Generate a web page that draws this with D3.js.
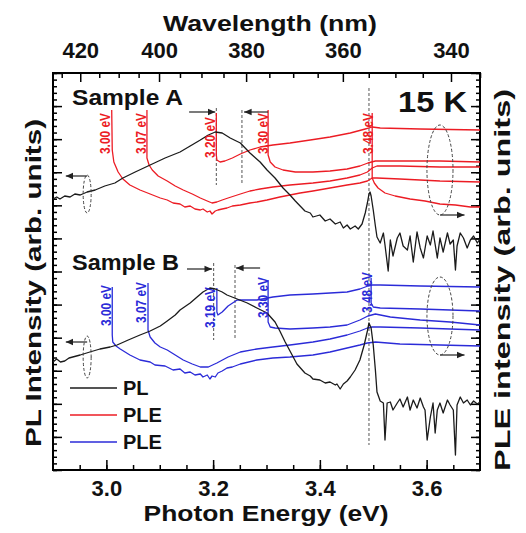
<!DOCTYPE html>
<html>
<head>
<meta charset="utf-8">
<script src="https://cdn.jsdelivr.net/npm/d3@7"></script>
<style>
  body { margin: 0; background: #fff; }
  text { font-family: "Liberation Sans", Arial, sans-serif; font-weight: bold; fill: #111; }
</style>
</head>
<body>
<div id="chart"></div>
<script>
// ---------------------------------------------------------------
// data: [photon energy (eV), intensity (arb. units)]
// ---------------------------------------------------------------
const plA = [[2.900,271],[2.907,273],[2.913,271],[2.922,274],[2.932,273],[2.941,276],[2.951,275],[2.964,278],[2.979,280],[2.997,284],
  [3.016,287],[3.031,292],[3.054,298],[3.082,305],[3.110,312],[3.138,318],[3.157,324],[3.176,330],[3.191,335],[3.204,338],
  [3.217,337],[3.232,332],[3.251,327],[3.269,317],[3.288,308],[3.301,300],[3.316,292],[3.331,282],[3.344,275],[3.354,269],
  [3.363,264],[3.372,259],[3.382,257],[3.387,253],[3.400,255],[3.410,249],[3.419,251],[3.429,246],[3.438,248],[3.444,242],
  [3.451,245],[3.457,241],[3.466,244],[3.472,241],[3.479,246],[3.485,257],[3.489,267],[3.492,276],[3.494,278],[3.496,274],
  [3.500,260],[3.504,244],[3.507,233],[3.513,227],[3.519,237],[3.522,225],[3.528,199],[3.532,230],[3.537,214],[3.545,232],
  [3.550,237],[3.556,224],[3.564,220],[3.569,234],[3.575,208],[3.582,238],[3.588,222],[3.594,212],[3.601,234],[3.607,225],
  [3.612,239],[3.620,212],[3.625,232],[3.631,218],[3.639,237],[3.644,226],[3.650,230],[3.654,200],[3.657,224],[3.663,237],
  [3.669,232],[3.676,222],[3.682,230],[3.688,234],[3.695,227],[3.700,231]];

const plB = [[2.900,108],[2.907,111],[2.914,108],[2.922,109],[2.930,112],[2.937,113],[2.951,115],[2.969,118],[2.988,121],[3.007,123],
  [3.020,125],[3.041,130],[3.063,135],[3.082,139],[3.101,144],[3.114,149],[3.129,155],[3.138,160],[3.157,167],[3.170,173],
  [3.181,178],[3.194,182],[3.204,181],[3.217,178],[3.226,175],[3.245,171],[3.264,167],[3.282,162],[3.301,157],[3.316,148],
  [3.325,139],[3.335,128],[3.344,119],[3.357,106],[3.372,97],[3.382,94],[3.387,91],[3.400,90],[3.410,87],[3.419,88],
  [3.429,85],[3.432,86],[3.438,81],[3.444,86],[3.451,89],[3.457,93],[3.466,100],[3.475,110],[3.483,125],[3.489,139],
  [3.492,147],[3.496,142],[3.500,125],[3.504,100],[3.507,78],[3.513,69],[3.519,67],[3.522,30],[3.526,67],[3.532,68],
  [3.537,60],[3.545,67],[3.550,71],[3.556,63],[3.564,73],[3.569,60],[3.575,70],[3.582,62],[3.588,72],[3.594,63],
  [3.597,60],[3.601,30],[3.607,53],[3.612,67],[3.616,37],[3.620,60],[3.625,67],[3.631,57],[3.639,70],[3.644,65],
  [3.650,60],[3.654,15],[3.657,65],[3.663,73],[3.669,67],[3.676,70],[3.682,65],[3.688,69],[3.695,66],[3.700,68]];

// PLE, sample A (detection energies 3.00, 3.07, 3.20, 3.30, 3.48 eV)
const pleA300 = [[3.010,360],[3.011,320],[3.014,308],[3.022,298],[3.031,291],[3.044,285],[3.063,280],[3.082,276],[3.101,272],[3.114,270],
  [3.125,267],[3.138,266],[3.147,263],[3.157,264],[3.166,261],[3.176,260],[3.181,261],[3.189,258],[3.194,259],[3.198,256],
  [3.204,259],[3.209,260],[3.217,261],[3.226,262],[3.236,264],[3.251,265],[3.269,267],[3.282,268],[3.301,270],[3.325,273],
  [3.344,275],[3.363,277],[3.387,279],[3.419,282],[3.451,285],[3.475,287],[3.489,289],[3.498,292],[3.507,292],[3.550,291],
  [3.625,289],[3.700,288]];
const pleA307 = [[3.076,360],[3.076,312],[3.080,305],[3.086,300],[3.097,294],[3.114,289],[3.129,284],[3.144,280],[3.161,276],[3.176,272],
  [3.189,269],[3.198,267],[3.207,268],[3.217,270],[3.228,272],[3.251,276],[3.269,279],[3.288,281],[3.312,283],[3.344,285],
  [3.387,287],[3.419,289],[3.451,292],[3.475,295],[3.489,298],[3.498,302],[3.507,304],[3.550,304],[3.625,303],[3.700,303]];
const pleA320 = [[3.206,357],[3.206,315],[3.207,310],[3.213,308],[3.222,309],[3.236,312],[3.251,316],[3.269,320],[3.288,323],[3.312,325],
  [3.344,327],[3.382,330],[3.419,333],[3.457,337],[3.485,341],[3.498,343],[3.513,342],[3.588,341],[3.700,340]];
const pleA330 = [[3.303,360],[3.303,315],[3.307,308],[3.316,303],[3.331,300],[3.354,298],[3.387,298],[3.419,299],[3.451,301],[3.475,304],
  [3.490,307],[3.504,309],[3.550,309],[3.625,309],[3.700,308]];
const pleA348 = [[3.498,357],[3.498,292],[3.502,287],[3.509,282],[3.522,277],[3.541,274],[3.569,271],[3.597,269],[3.625,266],[3.654,265],
  [3.682,263],[3.700,263]];

// PLE, sample B (detection energies 3.00, 3.07, 3.19, 3.30, 3.48 eV)
const pleB300 = [[3.011,183],[3.011,135],[3.012,128],[3.018,124],[3.026,121],[3.044,115],[3.063,110],[3.082,108],[3.091,105],[3.110,104],
  [3.125,100],[3.138,101],[3.147,97],[3.157,98],[3.166,95],[3.176,96],[3.181,93],[3.189,95],[3.194,91],[3.198,94],
  [3.204,93],[3.209,97],[3.217,99],[3.226,102],[3.236,103],[3.251,106],[3.282,110],[3.312,112],[3.344,113],[3.387,115],
  [3.419,118],[3.451,122],[3.475,125],[3.489,127],[3.504,128],[3.550,126],[3.625,125],[3.700,124]];
const pleB307 = [[3.078,187],[3.078,140],[3.082,133],[3.091,127],[3.101,123],[3.114,120],[3.129,115],[3.144,110],[3.161,106],[3.176,103],
  [3.191,103],[3.207,107],[3.228,113],[3.251,118],[3.282,121],[3.312,123],[3.344,125],[3.387,128],[3.419,131],[3.451,135],
  [3.475,139],[3.489,142],[3.498,143],[3.513,143],[3.588,142],[3.700,140]];
const pleB319 = [[3.207,182],[3.207,158],[3.209,155],[3.217,158],[3.228,164],[3.245,170],[3.260,170],[3.282,170],[3.312,173],[3.344,175],
  [3.387,176],[3.419,177],[3.451,178],[3.475,181],[3.490,184],[3.498,185],[3.513,185],[3.588,184],[3.700,183]];
const pleB330 = [[3.303,190],[3.303,148],[3.307,143],[3.316,142],[3.344,141],[3.387,142],[3.419,143],[3.451,145],[3.475,150],[3.490,154],
  [3.504,156],[3.532,153],[3.588,150],[3.644,148],[3.700,145]];
const pleB348 = [[3.496,192],[3.496,167],[3.500,163],[3.513,162],[3.588,161],[3.700,159]];

// peak labels: [energy of label baseline, top intensity, text]
const labelsA = [[3.007,357,"3.00 eV"],[3.074,357,"3.07 eV"],[3.204,353,"3.20 eV"],[3.303,357,"3.30 eV"],[3.500,357,"3.48 eV"]];
const labelsB = [[3.009,185,"3.00 eV"],[3.074,188,"3.07 eV"],[3.204,183,"3.19 eV"],[3.303,193,"3.30 eV"],[3.498,198,"3.48 eV"]];

// axis ticks
const energyTicks = [3.0, 3.2, 3.4, 3.6];
const wavelengthTicks = [420, 400, 380, 360, 340];

const colPL = "#1b1b1b", colA = "#ec1c24", colB = "#2b2bd8";

// ---------------------------------------------------------------
const margin = {top: 73, right: 46, bottom: 63, left: 53},
    width = 526 - margin.left - margin.right,
    height = 533 - margin.top - margin.bottom;

const root = d3.select("#chart")
  .append("svg")
    .attr("width", 526)
    .attr("height", 533);
const svg = root.append("g")
    .attr("transform", `translate(${margin.left},${margin.top})`);

const x = d3.scaleLinear().domain([2.9, 3.7]).range([0, width]);
const y = d3.scaleLinear().domain([0, 397]).range([height, 0]);

// bottom axis (ticks inward)
svg.append("g")
  .attr("transform", `translate(0,${height})`)
  .call(d3.axisBottom(x).tickValues(d3.range(2.95, 3.70, 0.05)).tickSize(-5).tickFormat(""));
svg.append("g")
  .attr("transform", `translate(0,${height})`)
  .call(d3.axisBottom(x).tickValues(energyTicks).tickSize(-10).tickPadding(10).tickFormat(d3.format(".1f")))
  .selectAll("text").style("font-size", "22px");

// top axis: wavelength
const nm = d => x(1239.84 / d);
const topAxis = svg.append("g");
topAxis.selectAll(".minor").data(d3.range(425, 334, -5)).join("line")
  .attr("x1", nm).attr("x2", nm).attr("y1", 0)
  .attr("y2", d => wavelengthTicks.includes(d) ? 9 : 5)
  .attr("stroke", "#000").attr("stroke-width", 1.5);
topAxis.selectAll(".lab").data(wavelengthTicks).join("text")
  .attr("x", nm).attr("y", -15)
  .attr("text-anchor", "middle").style("font-size", "22px")
  .text(d => d);

// left / right axes, no labels
const yMajor = d3.range(0, 12.01, 1).map(k => k * 397 / 12);
const yMinor = d3.range(0, 60.01, 1).map(k => k * 397 / 60);
[[d3.axisLeft, 0], [d3.axisRight, width]].forEach(([ax, xpos]) => {
  svg.append("g").attr("transform", `translate(${xpos},0)`)
    .call(ax(y).tickValues(yMinor).tickSize(-4).tickFormat(""));
  svg.append("g").attr("transform", `translate(${xpos},0)`)
    .call(ax(y).tickValues(yMajor).tickSize(-9).tickFormat(""));
});
svg.selectAll(".domain").remove();
svg.selectAll(".tick line").attr("stroke-width", 1.5);

// frame
svg.append("rect")
  .attr("width", width).attr("height", height)
  .attr("fill", "none").attr("stroke", "#000").attr("stroke-width", 2);

// dashed guide lines
const guides = [[3.206, 362, 285], [3.254, 360, 285], [3.201, 207, 130], [3.241, 205, 130], [3.492, 382, 25]];
svg.selectAll(".guide").data(guides).join("line")
  .attr("x1", d => x(d[0])).attr("x2", d => x(d[0]))
  .attr("y1", d => y(d[1])).attr("y2", d => y(d[2]))
  .attr("stroke", "#555").attr("stroke-width", 1).attr("stroke-dasharray", "3,2");

// curves
const line = d3.line().x(d => x(d[0])).y(d => y(d[1]));
const series = [
  [pleA300, colA], [pleA307, colA], [pleA320, colA], [pleA330, colA], [pleA348, colA],
  [pleB300, colB], [pleB307, colB], [pleB319, colB], [pleB330, colB], [pleB348, colB],
  [plA, colPL], [plB, colPL]
];
svg.selectAll(".curve").data(series).join("path")
  .attr("fill", "none")
  .attr("stroke", d => d[1])
  .attr("stroke-width", 1.3)
  .attr("stroke-linejoin", "round")
  .attr("d", d => line(d[0]));

// rotated peak labels
function peakLabels(list, color) {
  svg.append("g").selectAll("text").data(list).join("text")
    .attr("transform", d => `translate(${x(d[0])},${y(d[1])}) rotate(-90)`)
    .attr("text-anchor", "end")
    .attr("textLength", 41).attr("lengthAdjust", "spacingAndGlyphs")
    .style("font-size", "14px").style("fill", color)
    .text(d => d[2]);
}
peakLabels(labelsA, colA);
peakLabels(labelsB, colB);

// arrows
const defs = root.append("defs");
defs.append("marker").attr("id", "arr")
  .attr("viewBox", "0 0 10 10").attr("refX", 9).attr("refY", 5)
  .attr("markerWidth", 7).attr("markerHeight", 7).attr("orient", "auto")
  .append("path").attr("d", "M0,1 L9,5 L0,9 Z").attr("fill", "#222");

// [x from, x to, intensity]
const arrows = [
  [3.155, 3.204, 358], [3.303, 3.258, 358], [3.151, 3.198, 201], [3.288, 3.243, 202],
  [2.964, 2.924, 294], [3.625, 3.671, 255], [2.964, 2.924, 128], [3.625, 3.671, 115]
];
svg.append("g").selectAll("line").data(arrows).join("line")
  .attr("x1", d => x(d[0])).attr("x2", d => x(d[1]))
  .attr("y1", d => y(d[2])).attr("y2", d => y(d[2]))
  .attr("stroke", "#222").attr("stroke-width", 1.2)
  .attr("marker-end", "url(#arr)");

// dashed ellipses: [energy, intensity, rx (eV), ry]
const ellipses = [[2.964, 276, 0.0075, 19], [3.625, 300, 0.0244, 45], [2.964, 113, 0.0075, 21], [3.625, 154, 0.0244, 39]];
svg.append("g").selectAll("ellipse").data(ellipses).join("ellipse")
  .attr("cx", d => x(d[0])).attr("cy", d => y(d[1]))
  .attr("rx", d => x(2.9 + d[2]) - x(2.9)).attr("ry", d => y(0) - y(d[3]))
  .attr("fill", "none").attr("stroke", "#444").attr("stroke-width", 1).attr("stroke-dasharray", "3,2");

// texts (page coordinates)
function label(xp, yp, txt, size, len, anchor, rot) {
  root.append("text")
    .attr("transform", `translate(${xp},${yp})` + (rot ? ` rotate(${rot})` : ""))
    .attr("text-anchor", anchor)
    .attr("textLength", len).attr("lengthAdjust", "spacingAndGlyphs")
    .style("font-size", size + "px")
    .text(txt);
}
label(270, 31, "Wavelength (nm)", 22, 214, "middle");
label(266, 521, "Photon Energy (eV)", 22, 245, "middle");
label(41, 283, "PL Intensity (arb. units)", 22, 328, "middle", -90);
label(510, 280, "PLE intensity (arb. units)", 22, 382, "middle", -90);
label(72, 105, "Sample A", 22, 111, "start");
label(72, 270, "Sample B", 22, 107, "start");
label(467, 112, "15 K", 30, 69, "end");

// legend
const legend = [["PL", colPL], ["PLE", colA], ["PLE", colB]];
const lg = root.append("g").attr("transform", "translate(70,388)");
lg.selectAll("line").data(legend).join("line")
  .attr("x1", 0).attr("x2", 47)
  .attr("y1", (d, i) => i * 27).attr("y2", (d, i) => i * 27)
  .attr("stroke", d => d[1]).attr("stroke-width", 1.3);
lg.selectAll("text").data(legend).join("text")
  .attr("x", 53).attr("y", (d, i) => i * 27 + 7)
  .style("font-size", "20px")
  .text(d => d[0]);
</script>
</body>
</html>
